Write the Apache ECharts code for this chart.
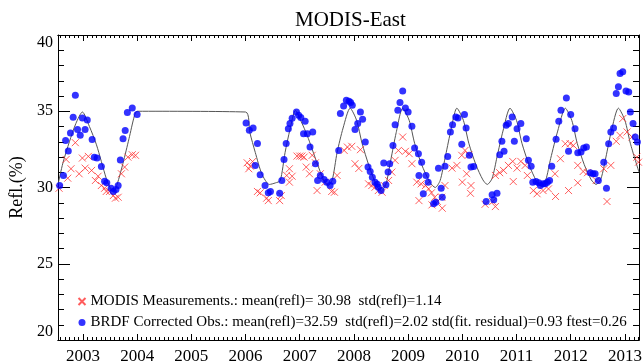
<!DOCTYPE html>
<html>
<head>
<meta charset="utf-8">
<script src="https://cdn.jsdelivr.net/npm/echarts@6/dist/echarts.min.js"></script>
<style>
html, body { margin: 0; padding: 0; background: #fff; }
#main { width: 644px; height: 362px; }
</style>
</head>
<body>
<div id="main"></div>
<script>
// Tick labels
var yearTicks = [2003, 2004, 2005, 2006, 2007, 2008, 2009, 2010, 2011, 2012, 2013];

// MODIS measurements (red x)
var measYears = [2002.56, 2002.69, 2002.72, 2002.78, 2002.86, 2002.93, 2002.99, 2003.04, 2003.10, 2003.16,
    2003.23, 2003.28, 2003.34, 2003.40, 2003.43, 2003.49, 2003.56, 2003.60, 2003.65, 2003.71,
    2003.77, 2003.83, 2003.91, 2003.97,
    2006.03, 2006.09, 2006.06, 2006.13, 2006.22, 2006.27, 2006.39, 2006.42, 2006.63, 2006.66,
    2006.76, 2006.81, 2006.86, 2006.81, 2006.95, 2007.00, 2007.04, 2007.08, 2007.12, 2007.18,
    2007.23, 2007.29, 2007.38, 2007.32, 2007.47, 2007.59, 2007.64, 2007.69, 2007.82, 2007.88,
    2007.96, 2008.02, 2008.09, 2008.12, 2008.27, 2008.33, 2008.39, 2008.45, 2008.52, 2008.56,
    2008.64, 2008.70, 2008.76, 2008.82, 2008.90, 2008.95, 2009.02, 2009.07, 2009.16, 2009.24,
    2009.20, 2009.32, 2009.38, 2009.43, 2009.49, 2009.44, 2009.54, 2009.63, 2009.62, 2009.68,
    2009.81, 2009.90, 2009.99, 2010.00, 2010.05, 2010.12, 2010.08, 2010.16, 2010.15, 2010.42,
    2010.56, 2010.61, 2010.61, 2010.69, 2010.76, 2010.85, 2010.93, 2011.01, 2011.08, 2011.16,
    2011.20, 2010.94, 2011.31, 2011.38, 2011.49, 2011.59, 2011.72, 2011.71, 2011.81, 2011.90,
    2011.99, 2012.05, 2012.13, 2012.23, 2012.31, 2011.96, 2012.13, 2012.47, 2012.61, 2012.67,
    2012.74, 2012.84, 2012.91, 2012.96, 2013.04, 2013.13, 2013.22, 2013.25];
var measRefl = [29.95, 31.84, 30.61, 31.23, 32.94, 30.90, 31.93, 31.27, 32.04, 31.12,
    30.46, 30.74, 30.13, 29.95, 29.74, 29.74, 29.47, 29.30, 29.36, 30.90,
    31.34, 31.99, 32.15, 32.11,
    31.62, 31.40, 31.23, 31.70, 29.74, 29.65, 29.30, 29.14, 29.14, 29.47,
    30.79, 31.23, 30.74, 30.35, 32.06, 32.06, 32.06, 31.99, 31.34, 30.90,
    32.11, 31.62, 30.90, 29.80, 30.35, 29.74, 29.69, 30.79, 32.43, 32.65,
    32.70, 31.56, 31.25, 32.48, 30.24, 30.13, 30.02, 29.80, 29.69, 30.13,
    30.46, 31.01, 31.78, 32.43, 33.31, 32.37, 32.22, 31.56, 30.35, 30.24,
    29.14, 30.13, 29.91, 29.65, 29.36, 28.86, 29.08, 28.64, 29.36, 30.13,
    31.27, 31.45, 32.11, 30.35, 32.43, 32.15, 30.90, 30.13, 29.62, 28.90,
    29.08, 28.75, 30.79, 30.97, 31.12, 31.45, 31.71, 31.27, 31.71, 31.45,
    30.79, 30.39, 29.80, 29.59, 29.80, 29.91, 29.41, 30.90, 31.89, 32.87,
    32.87, 32.76, 31.45, 31.05, 30.97, 29.80, 30.31, 30.46, 31.23, 29.08,
    31.45, 33.03, 33.42, 34.52, 33.64, 33.31, 31.99, 31.66];

// BRDF corrected observations (blue dots)
var brdfYears = [2002.57, 2002.64, 2002.68, 2002.73, 2002.77, 2002.82, 2002.86, 2002.90, 2002.95, 2002.99,
    2003.04, 2003.08, 2003.17, 2003.21, 2003.26, 2003.34, 2003.40, 2003.44, 2003.52, 2003.56,
    2003.61, 2003.65, 2003.69, 2003.74, 2003.78, 2003.82, 2003.91, 2004.00,
    2006.01, 2006.07, 2006.14, 2006.22, 2006.18, 2006.27, 2006.36, 2006.42, 2006.46, 2006.63,
    2006.67, 2006.71, 2006.75, 2006.79, 2006.82, 2006.86, 2006.94, 2006.98, 2007.02, 2007.10,
    2007.07, 2007.14, 2007.24, 2007.19, 2007.29, 2007.33, 2007.38, 2007.45, 2007.50, 2007.56,
    2007.61, 2007.72, 2007.75, 2007.81, 2007.86, 2007.91, 2007.94, 2007.97, 2008.02, 2008.07,
    2008.12, 2008.16, 2008.21, 2008.26, 2008.30, 2008.34, 2008.39, 2008.43, 2008.45, 2008.50,
    2008.55, 2008.59, 2008.63, 2008.66, 2008.72, 2008.76, 2008.81, 2008.85, 2008.90, 2008.95,
    2009.00, 2009.07, 2009.12, 2009.19, 2009.25, 2009.20, 2009.33, 2009.28, 2009.37, 2009.47,
    2009.51, 2009.56, 2009.61, 2009.63, 2009.68, 2009.73, 2009.78, 2009.82, 2009.88, 2009.92,
    2010.04, 2010.07, 2009.99, 2010.13, 2010.16, 2010.21, 2010.44, 2010.55, 2010.58, 2010.64,
    2010.69, 2010.73, 2010.77, 2010.81, 2010.85, 2010.92, 2010.96, 2011.01, 2011.08, 2011.18,
    2011.22, 2011.27, 2011.30, 2011.36, 2011.41, 2011.44, 2011.49, 2011.53, 2011.57, 2011.61,
    2011.65, 2011.73, 2011.78, 2011.82, 2011.92, 2012.00, 2011.96, 2012.08, 2012.13, 2012.19,
    2012.24, 2012.29, 2012.36, 2012.41, 2012.45, 2012.51, 2012.66, 2012.61, 2012.70, 2012.74,
    2012.79, 2012.84, 2012.88, 2012.91, 2012.96, 2013.02, 2013.07, 2013.10, 2013.15, 2013.19,
    2013.23];
var brdfRefl = [30.13, 30.79, 33.09, 32.39, 33.57, 34.61, 36.05, 33.80, 33.42, 34.56,
    33.80, 34.43, 33.14, 31.99, 31.93, 31.38, 30.41, 30.31, 29.95, 29.74,
    29.87, 30.13, 31.80, 33.20, 33.73, 34.91, 35.22, 34.78,
    34.23, 33.75, 33.90, 32.88, 31.45, 30.84, 30.13, 29.65, 29.74, 29.63,
    30.46, 31.84, 32.88, 33.86, 34.19, 34.54, 34.95, 34.74, 34.59, 34.34,
    33.53, 33.53, 33.64, 32.65, 31.56, 30.46, 30.79, 30.53, 30.35, 30.13,
    30.41, 32.43, 34.85, 35.35, 35.72, 35.66, 35.57, 35.39, 33.80, 34.19,
    34.95, 34.47, 32.98, 31.34, 31.05, 30.68, 30.35, 30.22, 30.02, 29.80,
    31.60, 30.18, 31.01, 31.56, 32.76, 34.12, 35.07, 35.57, 36.32, 35.22,
    34.95, 34.01, 32.59, 32.22, 31.66, 30.79, 30.79, 29.59, 30.35, 28.93,
    29.03, 31.27, 29.95, 29.36, 31.40, 32.04, 33.64, 34.12, 34.62, 34.56,
    34.78, 33.90, 32.83, 32.11, 31.34, 31.38, 29.08, 29.52, 29.19, 29.62,
    32.15, 33.03, 32.37, 34.08, 34.19, 34.62, 33.03, 33.86, 34.19, 33.20,
    31.78, 31.40, 30.35, 30.39, 30.31, 30.13, 30.24, 30.24, 30.35, 30.46,
    31.40, 33.16, 34.34, 35.07, 35.87, 34.78, 32.37, 33.86, 32.28, 32.32,
    32.59, 32.65, 30.97, 30.90, 30.90, 30.46, 29.95, 31.66, 32.87, 33.64,
    33.90, 36.16, 36.60, 37.48, 37.59, 36.32, 36.27, 34.95, 34.19, 33.31,
    32.98];

// Fitted model (thin line)
var fitYears = [2002.54, 2002.63, 2002.75, 2002.87, 2002.99, 2003.12, 2003.25, 2003.43, 2003.50, 2003.56,
    2003.63, 2003.74, 2003.85, 2003.95, 2004.00, 2006.00, 2006.08, 2006.18, 2006.30, 2006.44,
    2006.55, 2006.64, 2006.73, 2006.82, 2006.92, 2007.03, 2007.14, 2007.32, 2007.44, 2007.52,
    2007.60, 2007.69, 2007.80, 2007.93, 2008.05, 2008.15, 2008.28, 2008.42, 2008.50, 2008.59,
    2008.68, 2008.78, 2008.90, 2009.02, 2009.12, 2009.25, 2009.40, 2009.50, 2009.59, 2009.68,
    2009.78, 2009.90, 2010.02, 2010.12, 2010.25, 2010.38, 2010.46, 2010.55, 2010.64, 2010.75,
    2010.88, 2011.00, 2011.10, 2011.23, 2011.37, 2011.45, 2011.54, 2011.63, 2011.76, 2011.90,
    2012.02, 2012.12, 2012.25, 2012.38, 2012.47, 2012.56, 2012.65, 2012.75, 2012.88, 2013.00,
    2013.10, 2013.26];
var fitRefl = [30.2, 31.6, 33.0, 34.2, 34.95, 34.0, 32.8, 30.6, 30.0, 29.7,
    30.2, 31.6, 33.2, 34.7, 35.0, 34.95, 33.6, 32.3, 30.9, 30.2,
    30.3, 30.45, 32.3, 33.8, 35.05, 34.3, 33.4, 31.6, 30.5, 30.1,
    30.5, 32.3, 33.9, 35.2, 34.4, 32.9, 31.4, 30.1, 29.75, 30.2,
    31.8, 33.6, 35.2, 34.4, 32.9, 31.5, 30.35, 30.0, 30.45, 31.9,
    33.6, 35.2, 34.4, 32.9, 31.5, 30.5, 30.2, 30.6, 32.0, 33.7,
    35.2, 34.4, 32.9, 31.5, 30.4, 30.1, 30.5, 31.9, 33.7, 35.2,
    34.4, 32.9, 31.5, 30.5, 30.2, 30.6, 32.0, 33.7, 35.2, 34.4,
    32.9, 31.0];

var measName = 'MODIS Measurements.: mean(refl)= 30.98  std(refl)=1.14';
var brdfName = 'BRDF Corrected Obs.: mean(refl)=32.59  std(refl)=2.02 std(fit. residual)=0.93 ftest=0.26';

function pairs(xs, ys) {
    return xs.map(function (x, i) { return [x, ys[i]]; });
}

// monthly minor ticks between the labelled years
var monthTicks = [];
for (var m = -5; m <= 3 + (yearTicks.length - 1) * 12; m++) {
    monthTicks.push(yearTicks[0] + m / 12);
}

var serif = 'Liberation Serif';
var xMin = 2002.54, xMax = 2013.26;

function xAxisDef(pos, ticks, len, labels) {
    return {
        type: 'value', position: pos, min: xMin, max: xMax,
        axisLine: { show: true, lineStyle: { color: '#000', width: 1 } },
        axisTick: { show: true, inside: true, length: len, customValues: ticks, lineStyle: { color: '#000' } },
        axisLabel: labels ? {
            show: true, customValues: yearTicks, margin: 8, color: '#000', fontFamily: serif, fontSize: 17,
            formatter: function (v) { return String(Math.round(v)); }
        } : { show: false },
        splitLine: { show: false }
    };
}
function yAxisDef(pos, labels) {
    return {
        type: 'value', position: pos, min: 20, max: 40, interval: 5,
        name: labels ? 'Refl.(%)' : '', nameLocation: 'middle', nameGap: 28, nameRotate: 90,
        nameTextStyle: { color: '#000', fontFamily: serif, fontSize: 18 },
        axisLine: { show: true, lineStyle: { color: '#000', width: 1 } },
        axisTick: { show: true, inside: true, length: 12, lineStyle: { color: '#000' } },
        minorTick: { show: true, splitNumber: 5, length: 6, lineStyle: { color: '#000' } },
        axisLabel: labels ? {
            show: true, margin: 5, color: '#000', fontFamily: serif, fontSize: 16,
            verticalAlignMinLabel: 'bottom', verticalAlignMaxLabel: 'top'
        } : { show: false },
        splitLine: { show: false }, minorSplitLine: { show: false }
    };
}

var chart = echarts.init(document.getElementById('main'));
chart.setOption({
    backgroundColor: '#fff',
    animation: false,
    title: {
        text: 'MODIS-East', left: 290, top: 5,
        textStyle: { color: '#000', fontFamily: serif, fontSize: 21, fontWeight: 'normal' }
    },
    grid: { left: 58, right: 5, top: 35, bottom: 22, outerBoundsMode: 'none' },
    legend: {
        data: [measName, brdfName], orient: 'vertical', left: 76, top: 294,
        itemWidth: 7, itemHeight: 7, itemGap: 6, padding: 0,
        textStyle: { color: '#000', fontFamily: serif, fontSize: 15, lineHeight: 15 }
    },
    xAxis: [
        xAxisDef('bottom', monthTicks, 3, true),
        xAxisDef('bottom', yearTicks, 6, false),
        xAxisDef('top', monthTicks, 3, false),
        xAxisDef('top', yearTicks, 6, false)
    ],
    yAxis: [yAxisDef('left', true), yAxisDef('right', false)],
    series: [
        {
            name: 'fit', type: 'line', data: pairs(fitYears, fitRefl), smooth: 0.25,
            showSymbol: false, lineStyle: { color: '#555', width: 1 }, z: 1
        },
        {
            name: measName, type: 'scatter', data: pairs(measYears, measRefl),
            symbol: 'path://M0,0L10,10M10,0L0,10', symbolSize: 7,
            itemStyle: { color: 'none', borderColor: '#ff3333', borderWidth: 1 }, z: 2
        },
        {
            name: brdfName, type: 'scatter', data: pairs(brdfYears, brdfRefl),
            symbol: 'circle', symbolSize: 7,
            itemStyle: { color: '#0000ff' }, z: 3
        }
    ]
});
</script>
</body>
</html>
